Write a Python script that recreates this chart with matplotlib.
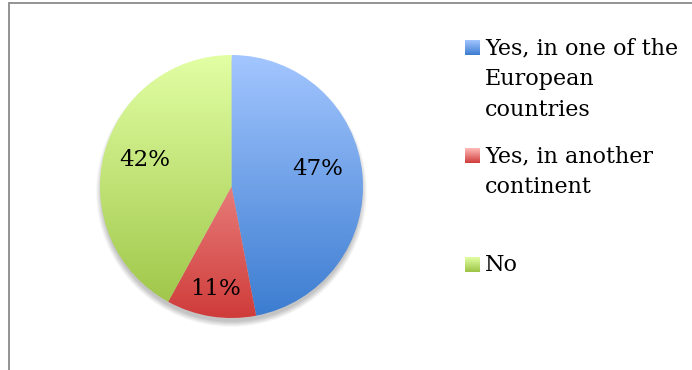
import numpy as np
import matplotlib
matplotlib.use("Agg")
import matplotlib.pyplot as plt
from matplotlib.colors import LinearSegmentedColormap

# Survey answers
categories = ["Yes, in one of the\nEuropean\ncountries", "Yes, in another\ncontinent", "No"]
shares = [47, 11, 42]
pct_labels = ["47%", "11%", "42%"]

# Vertical gradient (top colour, bottom colour) for each slice
gradients = [("#a3c6ff", "#3b7cd0"), ("#ffbcb9", "#cf3c3a"), ("#e2ffa4", "#9cc445")]

W, H = 692, 370
fig = plt.figure(figsize=(W / 100, H / 100), dpi=100)
ax = fig.add_axes([0, 0, 1, 1])

font = "DejaVu Serif"
cx, cy, r = 231.5, H - 186.5, 131.5

# soft drop shadow, mostly below the pie
from matplotlib.patches import Circle
for k in range(12):
    ax.add_patch(Circle((cx, cy - 5), r + 4 - k * 0.5, color="black",
                        alpha=0.02, lw=0, zorder=1))

wedges, _ = ax.pie(shares, startangle=90, counterclock=False, center=(cx, cy),
                   radius=r, frame=True, wedgeprops=dict(linewidth=0))

grad = np.linspace(0, 1, 256).reshape(-1, 1)
for w, (top, bot) in zip(wedges, gradients):
    w.set_facecolor("none")
    cmap = LinearSegmentedColormap.from_list("g", [bot, top])
    im = ax.imshow(grad, cmap=cmap, origin="lower", aspect="auto",
                   extent=(cx - r, cx + r, cy - r, cy + r), zorder=2,
                   interpolation="bilinear")
    im.set_clip_path(w)

# percentage labels placed along each slice's mid angle
label_dist = [0.67, 0.78, 0.69]
label_turn = [7, 0, -3]
for w, lab, d, t in zip(wedges, pct_labels, label_dist, label_turn):
    ang = np.deg2rad((w.theta1 + w.theta2) / 2 + t)
    ax.text(cx + d * r * np.cos(ang), cy + d * r * np.sin(ang) - 1, lab,
            ha="center", va="center", fontsize=16.5, family=font,
            color="black", zorder=5)

# legend
leg_tops = [40, 148, 257]
for (top, bot), name, y0 in zip(gradients, categories, leg_tops):
    cmap = LinearSegmentedColormap.from_list("g", [bot, top])
    ax.imshow(grad, cmap=cmap, origin="lower", aspect="auto",
              extent=(465, 480, H - y0 - 15, H - y0), zorder=3)
    ax.text(485, H - y0 + 3, name, ha="left", va="top", fontsize=16,
            family=font, linespacing=1.52, zorder=5)

# chart frame
ax.plot([9, 9, W + 5], [-5, H - 3, H - 3], color="#8a8a8a", lw=1.3,
        solid_joinstyle="miter", zorder=6)

ax.set_xlim(0, W)
ax.set_ylim(0, H)
ax.set_aspect("equal")
ax.axis("off")

fig.savefig("out.png", dpi=100)
